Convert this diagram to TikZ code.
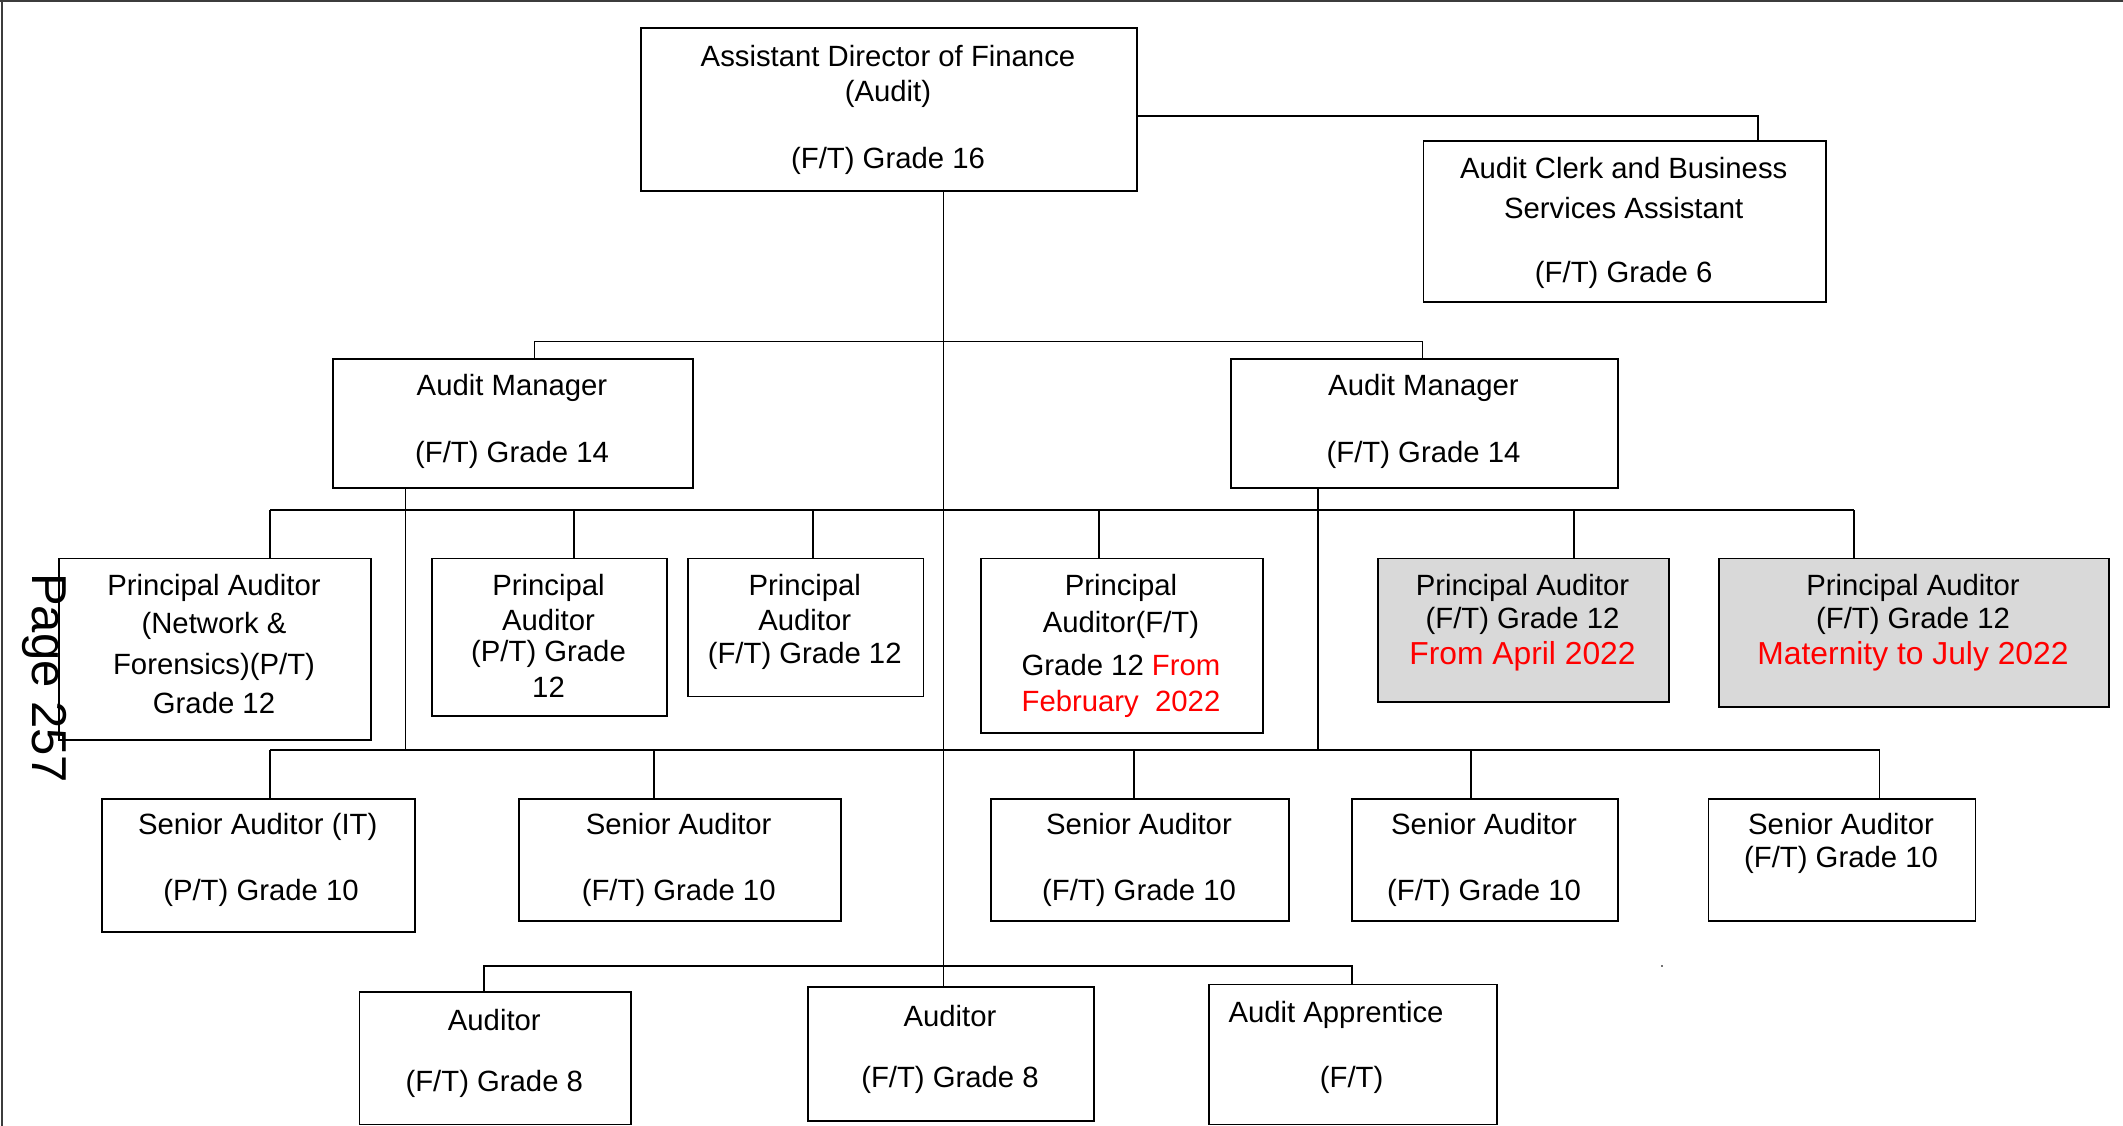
\documentclass[tikz,border=0pt]{standalone}
\usepackage{fontspec}
\setmainfont{Liberation Sans}
\definecolor{boxgray}{RGB}{217,217,217}
\definecolor{framegray}{RGB}{60,60,60}
\begin{document}
\begin{tikzpicture}[x=1pt,y=-1pt,
  bx/.style={draw=black, line width=1.8pt, rectangle, inner sep=0pt, anchor=north west},
  gbx/.style={bx, fill=boxgray},
  tx/.style={anchor=base, inner sep=0pt, font=\fontsize{29.3}{33}\selectfont},
  rtx/.style={tx, text=red, font=\fontsize{31.8}{35}\selectfont},
  ln/.style={line width=1.5pt, black}]
\useasboundingbox (0,0) rectangle (2123,1126);
% frame (top and left edges)
\draw[line width=2.5pt, framegray] (0,1.2) -- (2123,1.2);
\draw[line width=2.5pt, framegray] (2,0) -- (2,1126);

% ---------- boxes ----------
\node[bx, minimum width=496pt, minimum height=163pt] (adf) at (640,27) {};
\node[bx, minimum width=402.5pt, minimum height=161pt] (clerk) at (1422.5,140) {};
\node[bx, minimum width=360pt, minimum height=129pt] (ml) at (332,358) {};
\node[bx, minimum width=387pt, minimum height=129pt] (mr) at (1230,358) {};
\node[bx, minimum width=312pt, minimum height=181.5pt] (p1) at (58,557.5) {};
\node[bx, minimum width=235pt, minimum height=157.5pt] (p2) at (431,557.5) {};
\node[bx, minimum width=235.5pt, minimum height=138pt] (p3) at (687,557.5) {};
\node[bx, minimum width=282pt, minimum height=174.5pt] (p4) at (980,557.5) {};
\node[gbx, minimum width=291pt, minimum height=143.5pt] (p5) at (1377,557.5) {};
\node[gbx, minimum width=390pt, minimum height=148.5pt] (p6) at (1718,557.5) {};
\node[bx, minimum width=313pt, minimum height=133pt] (s1) at (101,797.7) {};
\node[bx, minimum width=322pt, minimum height=122.3pt] (s2) at (517.7,797.7) {};
\node[bx, minimum width=298pt, minimum height=122.3pt] (s3) at (990,797.7) {};
\node[bx, minimum width=266pt, minimum height=122.3pt] (s4) at (1351,797.7) {};
\node[bx, minimum width=267pt, minimum height=122.3pt] (s5) at (1707.6,797.7) {};
\node[bx, minimum width=271.5pt, minimum height=132.6pt] (a1) at (358.5,991) {};
\node[bx, minimum width=286pt, minimum height=134pt] (a2) at (807,986) {};
\node[bx, minimum width=288pt, minimum height=140pt] (a3) at (1207.7,983.5) {};

% ---------- texts ----------
\node[tx] (adf1) at (888,66.7) {Assistant Director of Finance};
\node[tx] (adf2) at (888,101.8) {(Audit)};
\node[tx] (adf3) at (888,169) {(F/T) Grade 16};

\node[tx] (cl1) at (1623.7,178.3) {Audit Clerk and Business};
\node[tx] (cl2) at (1623.7,218.3) {Services Assistant};
\node[tx] (cl3) at (1623.7,282) {(F/T) Grade 6};

\node[tx] (ml1) at (512,395.5) {Audit Manager};
\node[tx] (ml2) at (512,462) {(F/T) Grade 14};
\node[tx] (mr1) at (1423.5,395.5) {Audit Manager};
\node[tx] (mr2) at (1423.5,462) {(F/T) Grade 14};

\node[tx] (p1a) at (214,595) {Principal Auditor};
\node[tx] (p1b) at (214,633) {(Network \&};
\node[tx] (p1c) at (214,674) {Forensics)(P/T)};
\node[tx] (p1d) at (214,713) {Grade 12};

\node[tx] (p2a) at (548.5,595) {Principal};
\node[tx] (p2b) at (548.5,630.4) {Auditor};
\node[tx] (p2c) at (548.5,661.3) {(P/T) Grade};
\node[tx] (p2d) at (548.5,697) {12};

\node[tx] (p3a) at (804.7,595) {Principal};
\node[tx] (p3b) at (804.7,630.4) {Auditor};
\node[tx] (p3c) at (804.7,663) {(F/T) Grade 12};

\node[tx] (p4a) at (1121,595) {Principal};
\node[tx] (p4b) at (1121,632.4) {Auditor(F/T)};
\node[tx] (p4c) at (1121,675.7) {Grade 12 \textcolor{red}{From}};
\node[tx, text=red] (p4d) at (1121,711) {February\ \ 2022};

\node[tx] (p5a) at (1522.5,595) {Principal Auditor};
\node[tx] (p5b) at (1522.5,628.3) {(F/T) Grade 12};
\node[rtx] (p5c) at (1522.5,664) {From April 2022};

\node[tx] (p6a) at (1913,595) {Principal Auditor};
\node[tx] (p6b) at (1913,628.3) {(F/T) Grade 12};
\node[rtx] (p6c) at (1913,664) {Maternity to July 2022};

\node[tx] (s1a) at (257.7,834.3) {Senior Auditor (IT)};
\node[tx] (s1b) at (261,900.3) {(P/T) Grade 10};
\node[tx] (s2a) at (678.7,834.3) {Senior Auditor};
\node[tx] (s2b) at (678.7,900.3) {(F/T) Grade 10};
\node[tx] (s3a) at (1139,834.3) {Senior Auditor};
\node[tx] (s3b) at (1139,900.3) {(F/T) Grade 10};
\node[tx] (s4a) at (1484,834.3) {Senior Auditor};
\node[tx] (s4b) at (1484,900.3) {(F/T) Grade 10};
\node[tx] (s5a) at (1841,834.5) {Senior Auditor};
\node[tx] (s5b) at (1841,867.3) {(F/T) Grade 10};

\node[tx] (a1a) at (494.3,1030) {Auditor};
\node[tx] (a1b) at (494.3,1091.8) {(F/T) Grade 8};
\node[tx] (a2a) at (950,1026) {Auditor};
\node[tx] (a2b) at (950,1087.8) {(F/T) Grade 8};
\node[tx] (a3a) at (1336,1022) {Audit Apprentice};
\node[tx] (a3b) at (1351.6,1087.8) {(F/T)};

% page label
\node[rotate=-90, anchor=base west, inner sep=0pt,
      font=\fontsize{49}{50}\selectfont] (pg) at (32,573) {Page 257};

% ---------- connectors ----------
% director to clerk
\coordinate (jc) at (1758,116);
\draw[ln] (adf.east |- jc) -- (jc) -- (jc |- clerk.north);
% main spine
\coordinate (spine) at (943.5,0);
\draw[ln] (spine |- adf.south) -- (spine |- a2.north);
% managers bar
\coordinate (mbl) at (534.5,341.7);
\coordinate (mbr) at (1422.5,341.7);
\draw[ln] (mbl |- ml.north) -- (mbl) -- (mbr) -- (mbr |- mr.north);
% managers down to senior bar
\coordinate (sbar) at (0,750);
\coordinate (mlx) at (405.5,0);
\coordinate (mrx) at (1318,0);
\draw[ln] (mlx |- ml.south) -- (mlx |- sbar);
\draw[ln] (mrx |- mr.south) -- (mrx |- sbar);
% principal bar
\coordinate (pb1) at (270,510);
\coordinate (pb2) at (574,510);
\coordinate (pb3) at (813,510);
\coordinate (pb4) at (1099,510);
\coordinate (pb5) at (1574,510);
\coordinate (pb6) at (1854,510);
\draw[ln] (pb1) -- (pb6);
\draw[ln] (pb1) -- (pb1 |- p1.north);
\draw[ln] (pb2) -- (pb2 |- p2.north);
\draw[ln] (pb3) -- (pb3 |- p3.north);
\draw[ln] (pb4) -- (pb4 |- p4.north);
\draw[ln] (pb5) -- (pb5 |- p5.north);
\draw[ln] (pb6) -- (pb6 |- p6.north);
% senior bar
\coordinate (sb1) at (270,750);
\coordinate (sb2) at (654,750);
\coordinate (sb3) at (1134,750);
\coordinate (sb4) at (1471,750);
\coordinate (sb5) at (1879.5,750);
\draw[ln] (sb1) -- (sb5);
\draw[ln] (sb1) -- (sb1 |- s1.north);
\draw[ln] (sb2) -- (sb2 |- s2.north);
\draw[ln] (sb3) -- (sb3 |- s3.north);
\draw[ln] (sb4) -- (sb4 |- s4.north);
\draw[ln] (sb5) -- (sb5 |- s5.north);
% auditor bar
\coordinate (ab1) at (484,966);
\coordinate (ab3) at (1352,966);
\draw[ln] (ab1 |- a1.north) -- (ab1) -- (ab3) -- (ab3 |- a3.north);
% stray mark
\fill[black!55] (1661,965) rectangle (1663,967);
\end{tikzpicture}
\end{document}
